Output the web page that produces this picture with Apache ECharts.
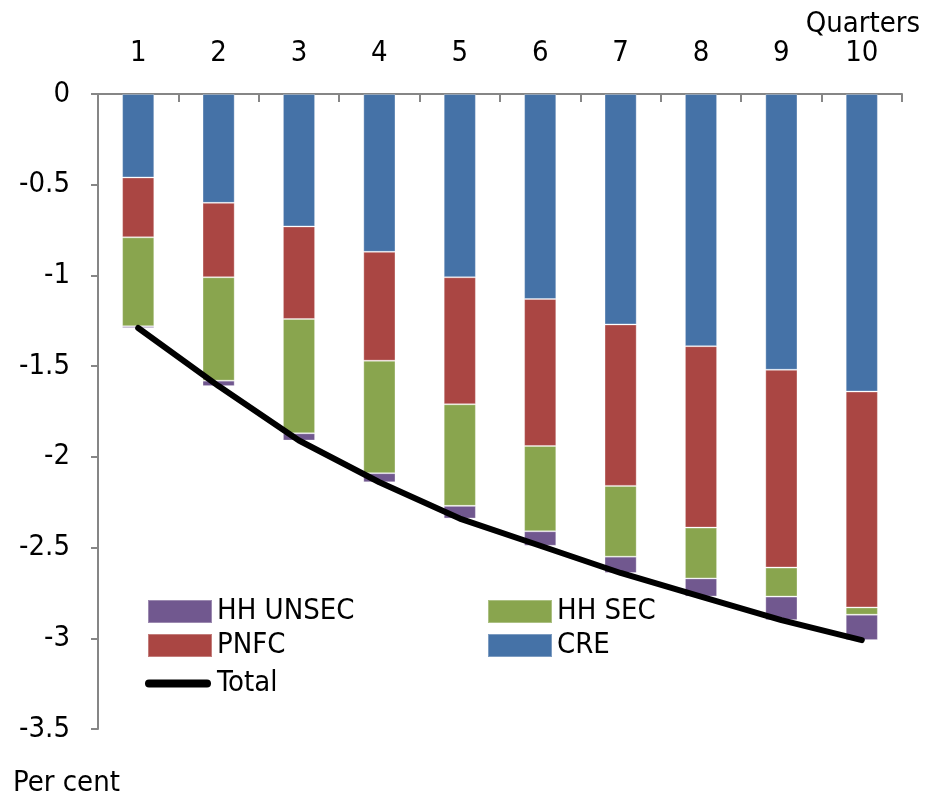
<!DOCTYPE html>
<html>
<head>
<meta charset="utf-8">
<script src="https://cdn.jsdelivr.net/npm/echarts@6/dist/echarts.min.js"></script>
<style>
  html, body { margin: 0; padding: 0; background: #fff; }
  #chart { width: 928px; height: 795px; }
</style>
</head>
<body>
<div id="chart"></div>
<script>
// Quarterly contributions to the total, in per cent
const quarters = ['1', '2', '3', '4', '5', '6', '7', '8', '9', '10'];
const cre     = [-0.46, -0.60, -0.73, -0.87, -1.01, -1.13, -1.27, -1.39, -1.52, -1.64];
const pnfc    = [-0.33, -0.41, -0.51, -0.60, -0.70, -0.81, -0.89, -1.00, -1.09, -1.19];
const hhSec   = [-0.49, -0.57, -0.63, -0.62, -0.56, -0.47, -0.39, -0.28, -0.16, -0.04];
const hhUnsec = [-0.01, -0.03, -0.04, -0.05, -0.07, -0.08, -0.09, -0.10, -0.13, -0.14];
const total   = [-1.29, -1.61, -1.91, -2.14, -2.34, -2.49, -2.64, -2.77, -2.90, -3.01];
const yTicks  = { min: -3.5, max: 0, step: 0.5 };

const FONT = '"DejaVu Sans Condensed", "Liberation Sans Narrow", "Noto Sans", sans-serif';
const FONT_SIZE = 29;
const AXIS_GREY = '#868686';

const colors = {
  'CRE': '#4572A7',
  'PNFC': '#AA4643',
  'HH SEC': '#89A54E',
  'HH UNSEC': '#71588F'
};

// Rounded thick stroke used as the legend key of the total line
const LINE_KEY = 'path://M4,0 L62,0 A4,4 0 0 1 62,8 L4,8 A4,4 0 0 1 4,0 Z';

function barSeries(name, data) {
  return {
    name: name,
    type: 'bar',
    stack: 'contrib',
    data: data,
    barCategoryGap: '60%',
    itemStyle: {
      color: colors[name],
      borderColor: 'rgba(255,255,255,0.3)',
      borderWidth: 1
    },
    emphasis: { disabled: true }
  };
}

const legendText = { fontFamily: FONT, fontSize: FONT_SIZE, color: '#000' };

const chart = echarts.init(document.getElementById('chart'), null, { renderer: 'canvas' });

chart.setOption({
  animation: false,
  textStyle: { fontFamily: FONT, color: '#000' },
  grid: { left: 98, right: 26, top: 94, bottom: 66, containLabel: false },
  title: [
    {
      text: 'Quarters',
      right: 3,
      top: 5,
      textStyle: { fontFamily: FONT, fontSize: FONT_SIZE, fontWeight: 'normal', color: '#000' }
    },
    {
      text: 'Per cent',
      left: 8,
      top: 764,
      textStyle: { fontFamily: FONT, fontSize: FONT_SIZE, fontWeight: 'normal', color: '#000' }
    }
  ],
  legend: [
    {
      orient: 'vertical',
      left: 142,
      top: 592,
      itemWidth: 64,
      itemHeight: 23,
      itemGap: 5,
      icon: 'rect',
      selectedMode: false,
      data: ['HH UNSEC', 'PNFC'],
      textStyle: legendText
    },
    {
      orient: 'vertical',
      left: 482,
      top: 592,
      itemWidth: 64,
      itemHeight: 23,
      itemGap: 5,
      icon: 'rect',
      selectedMode: false,
      data: ['HH SEC', 'CRE'],
      textStyle: legendText
    },
    {
      orient: 'vertical',
      left: 140,
      top: 664,
      itemWidth: 68,
      itemHeight: 8,
      selectedMode: false,
      data: [{ name: 'Total', icon: LINE_KEY }],
      textStyle: legendText
    }
  ],
  xAxis: {
    type: 'category',
    position: 'top',
    data: quarters,
    axisLine: { show: true, onZero: false, lineStyle: { color: AXIS_GREY, width: 2 } },
    axisTick: { show: true, inside: true, length: 8, lineStyle: { color: AXIS_GREY, width: 2 } },
    axisLabel: { fontFamily: FONT, fontSize: FONT_SIZE, color: '#000', margin: 26 },
    splitLine: { show: false }
  },
  yAxis: {
    type: 'value',
    min: yTicks.min,
    max: yTicks.max,
    interval: yTicks.step,
    axisLine: { show: true, lineStyle: { color: AXIS_GREY, width: 2 } },
    axisTick: { show: true, length: 7, lineStyle: { color: AXIS_GREY, width: 2 } },
    axisLabel: { fontFamily: FONT, fontSize: FONT_SIZE, color: '#000', margin: 28 },
    splitLine: { show: false }
  },
  series: [
    barSeries('CRE', cre),
    barSeries('PNFC', pnfc),
    barSeries('HH SEC', hhSec),
    barSeries('HH UNSEC', hhUnsec),
    {
      name: 'Total',
      type: 'line',
      data: total,
      z: 5,
      symbol: 'none',
      color: '#000',
      lineStyle: { color: '#000', width: 6, cap: 'round', join: 'round' },
      emphasis: { disabled: true }
    }
  ]
});
</script>
</body>
</html>
